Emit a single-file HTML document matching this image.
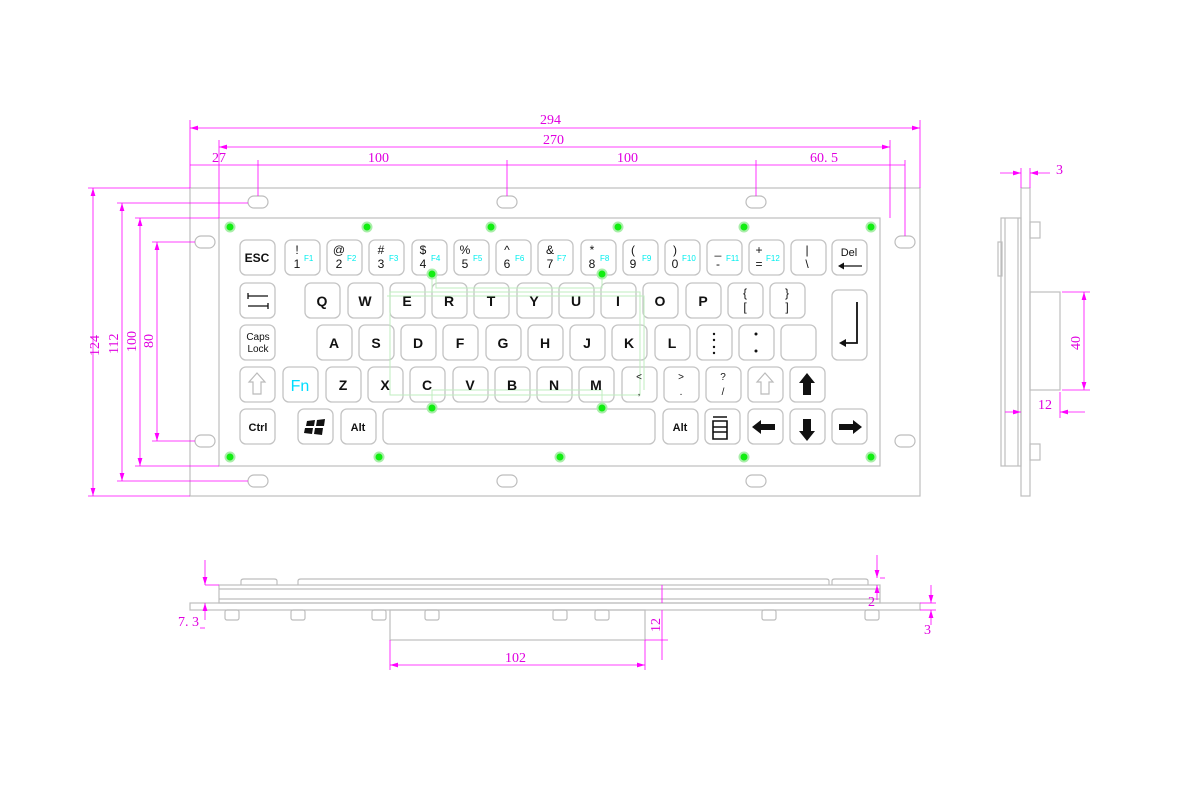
<!DOCTYPE html>
<html><head><meta charset="utf-8"><style>
html,body{margin:0;padding:0;background:#fff}
svg{display:block}
.o{fill:none;stroke:#bdbdbd;stroke-width:1.2}
.k{fill:#fff;stroke:#c4c4c4;stroke-width:1.3}
.d{stroke:#f0f;stroke-width:0.8;fill:none}
.dt{fill:#e000e0;font-family:"Liberation Serif",serif;font-size:14px}
.t{font-family:"Liberation Sans",sans-serif;font-weight:bold;font-size:14px;fill:#111;text-anchor:middle}
.s{font-family:"Liberation Sans",sans-serif;font-size:12px;fill:#111;text-anchor:middle}
.f{font-family:"Liberation Sans",sans-serif;font-size:8px;fill:#0ee}
.g{fill:#1e1;stroke:#aea;stroke-width:2}
.tr{stroke:#bfeebf;stroke-width:1;fill:none}
</style></head><body>
<svg width="1200" height="800" viewBox="0 0 1200 800" xmlns="http://www.w3.org/2000/svg">
<defs>
<marker id="a" viewBox="0 0 10 6" refX="10" refY="3" markerWidth="10" markerHeight="6" orient="auto-start-reverse"><path d="M0,0L10,3L0,6z" fill="#f0f"/></marker>
</defs>
<rect class="o" x="190" y="188" width="730" height="308"/>
<rect class="o" x="219" y="218" width="661" height="248"/>
<g class="o">
<rect x="248" y="196" width="20" height="12" rx="6"/><rect x="497" y="196" width="20" height="12" rx="6"/><rect x="746" y="196" width="20" height="12" rx="6"/>
<rect x="248" y="475" width="20" height="12" rx="6"/><rect x="497" y="475" width="20" height="12" rx="6"/><rect x="746" y="475" width="20" height="12" rx="6"/>
<rect x="195" y="236" width="20" height="12" rx="6"/><rect x="195" y="435" width="20" height="12" rx="6"/>
<rect x="895" y="236" width="20" height="12" rx="6"/><rect x="895" y="435" width="20" height="12" rx="6"/>
</g>
<g class="d">
<line x1="190" y1="128" x2="920" y2="128" marker-start="url(#a)" marker-end="url(#a)"/>
<line x1="219" y1="147" x2="890" y2="147" marker-start="url(#a)" marker-end="url(#a)"/>
<line x1="190" y1="165" x2="905" y2="165"/>
<line x1="190" y1="120" x2="190" y2="188"/><line x1="920" y1="120" x2="920" y2="188"/>
<line x1="219" y1="140" x2="219" y2="218"/><line x1="890" y1="140" x2="890" y2="218"/>
<line x1="905" y1="160" x2="905" y2="236"/>
<line x1="258" y1="160" x2="258" y2="196"/><line x1="507" y1="160" x2="507" y2="196"/><line x1="756" y1="160" x2="756" y2="196"/>
<line x1="93" y1="188" x2="93" y2="496" marker-start="url(#a)" marker-end="url(#a)"/>
<line x1="122" y1="203" x2="122" y2="481" marker-start="url(#a)" marker-end="url(#a)"/>
<line x1="140" y1="218" x2="140" y2="466" marker-start="url(#a)" marker-end="url(#a)"/>
<line x1="157" y1="242" x2="157" y2="441" marker-start="url(#a)" marker-end="url(#a)"/>
<line x1="88" y1="188" x2="190" y2="188"/><line x1="88" y1="496" x2="190" y2="496"/>
<line x1="117" y1="203" x2="248" y2="203"/><line x1="117" y1="481" x2="248" y2="481"/>
<line x1="135" y1="218" x2="219" y2="218"/><line x1="135" y1="466" x2="219" y2="466"/>
<line x1="152" y1="242" x2="195" y2="242"/><line x1="152" y1="441" x2="195" y2="441"/>
</g>
<g class="dt">
<text x="540" y="124">294</text><text x="543" y="144">270</text>
<text x="212" y="162">27</text><text x="368" y="162">100</text><text x="617" y="162">100</text><text x="810" y="162">60. 5</text>
<text transform="translate(99,356) rotate(-90)">124</text>
<text transform="translate(118,354) rotate(-90)">112</text>
<text transform="translate(136,352) rotate(-90)">100</text>
<text transform="translate(153,348) rotate(-90)">80</text>
</g>
<g class="k">
<rect x="240" y="240" width="35" height="35" rx="6"/>
<rect x="285" y="240" width="35" height="35" rx="6"/><rect x="327" y="240" width="35" height="35" rx="6"/><rect x="369" y="240" width="35" height="35" rx="6"/><rect x="412" y="240" width="35" height="35" rx="6"/><rect x="454" y="240" width="35" height="35" rx="6"/><rect x="496" y="240" width="35" height="35" rx="6"/><rect x="538" y="240" width="35" height="35" rx="6"/><rect x="581" y="240" width="35" height="35" rx="6"/><rect x="623" y="240" width="35" height="35" rx="6"/><rect x="665" y="240" width="35" height="35" rx="6"/><rect x="707" y="240" width="35" height="35" rx="6"/><rect x="749" y="240" width="35" height="35" rx="6"/><rect x="791" y="240" width="35" height="35" rx="6"/><rect x="832" y="240" width="35" height="35" rx="6"/>
<rect x="240" y="283" width="35" height="35" rx="6"/>
<rect x="305" y="283" width="35" height="35" rx="6"/><rect x="348" y="283" width="35" height="35" rx="6"/><rect x="390" y="283" width="35" height="35" rx="6"/><rect x="432" y="283" width="35" height="35" rx="6"/><rect x="474" y="283" width="35" height="35" rx="6"/><rect x="517" y="283" width="35" height="35" rx="6"/><rect x="559" y="283" width="35" height="35" rx="6"/><rect x="601" y="283" width="35" height="35" rx="6"/><rect x="643" y="283" width="35" height="35" rx="6"/><rect x="686" y="283" width="35" height="35" rx="6"/><rect x="728" y="283" width="35" height="35" rx="6"/><rect x="770" y="283" width="35" height="35" rx="6"/>
<rect x="832" y="290" width="35" height="70" rx="6"/>
<rect x="240" y="325" width="35" height="35" rx="6"/>
<rect x="317" y="325" width="35" height="35" rx="6"/><rect x="359" y="325" width="35" height="35" rx="6"/><rect x="401" y="325" width="35" height="35" rx="6"/><rect x="443" y="325" width="35" height="35" rx="6"/><rect x="486" y="325" width="35" height="35" rx="6"/><rect x="528" y="325" width="35" height="35" rx="6"/><rect x="570" y="325" width="35" height="35" rx="6"/><rect x="612" y="325" width="35" height="35" rx="6"/><rect x="655" y="325" width="35" height="35" rx="6"/><rect x="697" y="325" width="35" height="35" rx="6"/><rect x="739" y="325" width="35" height="35" rx="6"/><rect x="781" y="325" width="35" height="35" rx="6"/>
<rect x="240" y="367" width="35" height="35" rx="6"/><rect x="283" y="367" width="35" height="35" rx="6"/><rect x="326" y="367" width="35" height="35" rx="6"/><rect x="368" y="367" width="35" height="35" rx="6"/><rect x="410" y="367" width="35" height="35" rx="6"/><rect x="453" y="367" width="35" height="35" rx="6"/><rect x="495" y="367" width="35" height="35" rx="6"/><rect x="537" y="367" width="35" height="35" rx="6"/><rect x="579" y="367" width="35" height="35" rx="6"/><rect x="622" y="367" width="35" height="35" rx="6"/><rect x="664" y="367" width="35" height="35" rx="6"/><rect x="706" y="367" width="35" height="35" rx="6"/><rect x="748" y="367" width="35" height="35" rx="6"/><rect x="790" y="367" width="35" height="35" rx="6"/>
<rect x="240" y="409" width="35" height="35" rx="6"/><rect x="298" y="409" width="35" height="35" rx="6"/><rect x="341" y="409" width="35" height="35" rx="6"/><rect x="383" y="409" width="272" height="35" rx="6"/><rect x="663" y="409" width="35" height="35" rx="6"/><rect x="705" y="409" width="35" height="35" rx="6"/><rect x="748" y="409" width="35" height="35" rx="6"/><rect x="790" y="409" width="35" height="35" rx="6"/><rect x="832" y="409" width="35" height="35" rx="6"/>
</g>
<g class="tr">
<path d="M432,274 V292 H640 V395 H390 V292 H432"/>
<path d="M436,274 V288 H602 V274"/>
<path d="M432,408 V390 H602 V408"/>
<path d="M387,296 H644 V390"/>
</g>
<g class="g">
<circle cx="230" cy="227" r="4.5"/><circle cx="367" cy="227" r="4.5"/><circle cx="491" cy="227" r="4.5"/><circle cx="618" cy="227" r="4.5"/><circle cx="744" cy="227" r="4.5"/><circle cx="871" cy="227" r="4.5"/>
<circle cx="230" cy="457" r="4.5"/><circle cx="379" cy="457" r="4.5"/><circle cx="560" cy="457" r="4.5"/><circle cx="744" cy="457" r="4.5"/><circle cx="871" cy="457" r="4.5"/>
<circle cx="432" cy="274" r="4.5"/><circle cx="602" cy="274" r="4.5"/><circle cx="432" cy="408" r="4.5"/><circle cx="602" cy="408" r="4.5"/>
</g>
<text class="s" x="257" y="262" style="font-weight:bold;font-size:12px">ESC</text>
<g class="s">
<text x="297" y="254">!</text><text x="297" y="268">1</text>
<text x="339" y="254">@</text><text x="339" y="268">2</text>
<text x="381" y="254">#</text><text x="381" y="268">3</text>
<text x="423" y="254">$</text><text x="423" y="268">4</text>
<text x="465" y="254">%</text><text x="465" y="268">5</text>
<text x="507" y="254">^</text><text x="507" y="268">6</text>
<text x="550" y="254">&amp;</text><text x="550" y="268">7</text>
<text x="592" y="254">*</text><text x="592" y="268">8</text>
<text x="633" y="254">(</text><text x="633" y="268">9</text>
<text x="675" y="254">)</text><text x="675" y="268">0</text>
<text x="718" y="254">_</text><text x="718" y="268">-</text>
<text x="759" y="254">+</text><text x="759" y="268">=</text>
<text x="807" y="254">|</text><text x="807" y="268">\</text>
<text x="849" y="256" style="font-size:11px">Del</text>
</g>
<g class="f"><text x="304" y="261">F1</text><text x="347" y="261">F2</text><text x="389" y="261">F3</text><text x="431" y="261">F4</text><text x="473" y="261">F5</text><text x="515" y="261">F6</text><text x="557" y="261">F7</text><text x="600" y="261">F8</text><text x="642" y="261">F9</text><text x="682" y="261">F10</text><text x="726" y="261">F11</text><text x="766" y="261">F12</text></g>
<path d="M842,266 H862" stroke="#111" stroke-width="1.3"/><path d="M838,266 l6,-3.5 v7z" fill="#111"/>
<g class="t">
<text x="322" y="306">Q</text><text x="365" y="306">W</text><text x="407" y="306">E</text><text x="449" y="306">R</text><text x="491" y="306">T</text><text x="534" y="306">Y</text><text x="576" y="306">U</text><text x="618" y="306">I</text><text x="660" y="306">O</text><text x="703" y="306">P</text>
</g>
<g class="s"><text x="745" y="297">{</text><text x="745" y="311">[</text><text x="787" y="297">}</text><text x="787" y="311">]</text></g>
<path d="M248,296 H268 M248,306 H268 M248,293 v6 M268,303 v6" stroke="#111" stroke-width="1.3" fill="none"/>
<path d="M857,302 V343 H845" stroke="#111" stroke-width="1.8" fill="none"/><path d="M839,343 l7,-4 v8z" fill="#111"/>
<g class="s" style="font-size:10px"><text x="258" y="340">Caps</text><text x="258" y="352">Lock</text></g>
<g class="t">
<text x="334" y="348">A</text><text x="376" y="348">S</text><text x="418" y="348">D</text><text x="460" y="348">F</text><text x="503" y="348">G</text><text x="545" y="348">H</text><text x="587" y="348">J</text><text x="629" y="348">K</text><text x="672" y="348">L</text>
</g>
<g fill="#111"><circle cx="714" cy="334" r="1.2"/><circle cx="714" cy="340" r="1.2"/><circle cx="714" cy="347" r="1.2"/><circle cx="714" cy="353" r="1.2"/><circle cx="756" cy="334" r="1.5"/><circle cx="756" cy="351" r="1.5"/></g>
<path d="M257,373 l-8,9 h4 v12 h8 v-12 h4z" fill="#fff" stroke="#bbb" stroke-width="1.2"/>
<text x="300" y="391" style="font-family:'Liberation Sans',sans-serif;font-size:16px;fill:#0df;text-anchor:middle">Fn</text>
<g class="t">
<text x="343" y="390">Z</text><text x="385" y="390">X</text><text x="427" y="390">C</text><text x="470" y="390">V</text><text x="512" y="390">B</text><text x="554" y="390">N</text><text x="596" y="390">M</text>
</g>
<g class="s" style="font-size:10px"><text x="639" y="380">&lt;</text><text x="639" y="395">,</text><text x="681" y="380">&gt;</text><text x="681" y="395">.</text><text x="723" y="380">?</text><text x="723" y="395">/</text></g>
<path d="M765,373 l-8,9 h4 v12 h8 v-12 h4z" fill="#fff" stroke="#bbb" stroke-width="1.2"/>
<path d="M807,373 l-8,10 h4 v12 h8 v-12 h4z" fill="#111"/>
<text class="s" x="258" y="431" style="font-weight:bold;font-size:11px">Ctrl</text>
<path d="M307,421 l8,-1 l-1,6 h-8z M317,420 l8,-1 l-1,7 h-8z M305,428 h8 l-1,6 l-8,-1z M315,428 h8 l-1,7 l-8,-1z" fill="#111"/>
<text class="s" x="358" y="431" style="font-weight:bold;font-size:11px">Alt</text>
<text class="s" x="680" y="431" style="font-weight:bold;font-size:11px">Alt</text>
<path d="M713,417 h14 M713,421 h14 v18 h-14z M713,427 h14 M713,432 h14" stroke="#111" stroke-width="1.6" fill="none"/>
<path d="M752,427 l9,-7 v4 h14 v6 h-14 v4z" fill="#111"/>
<path d="M807,441 l-8,-10 h4 v-12 h8 v12 h4z" fill="#111"/>
<path d="M862,427 l-9,-7 v4 h-14 v6 h14 v4z" fill="#111"/>
<g class="o">
<rect x="1021" y="188" width="9" height="308"/>
<rect x="1001" y="218" width="20" height="248"/>
<line x1="1005" y1="218" x2="1005" y2="466"/>
<line x1="1018" y1="218" x2="1018" y2="466"/>
<rect x="998" y="242" width="4" height="34"/>
<rect x="1030" y="292" width="30" height="98"/>
<rect x="1030" y="222" width="10" height="16"/>
<rect x="1030" y="444" width="10" height="16"/>
</g>
<g class="d">
<line x1="1000" y1="173" x2="1021" y2="173" marker-end="url(#a)"/>
<line x1="1050" y1="173" x2="1030" y2="173" marker-end="url(#a)"/>
<line x1="1021" y1="168" x2="1021" y2="188"/><line x1="1030" y1="168" x2="1030" y2="188"/>
<line x1="1084" y1="292" x2="1084" y2="390" marker-start="url(#a)" marker-end="url(#a)"/>
<line x1="1062" y1="292" x2="1090" y2="292"/><line x1="1062" y1="390" x2="1090" y2="390"/>
<line x1="1005" y1="412" x2="1021" y2="412" marker-end="url(#a)"/>
<line x1="1085" y1="412" x2="1060" y2="412" marker-end="url(#a)"/>
<line x1="1060" y1="392" x2="1060" y2="418"/>
</g>
<g class="dt"><text x="1056" y="174">3</text><text transform="translate(1080,350) rotate(-90)">40</text><text x="1038" y="409">12</text></g>
<g class="o">
<rect x="190" y="603" width="730" height="7"/>
<rect x="219" y="585" width="661" height="18"/>
<line x1="219" y1="589" x2="880" y2="589"/>
<line x1="219" y1="599" x2="880" y2="599"/>
<path d="M241,585 v-4 q0,-2 3,-2 h30 q3,0 3,2 v4"/>
<path d="M298,585 v-4 q0,-2 3,-2 h525 q3,0 3,2 v4"/>
<path d="M832,585 v-4 q0,-2 3,-2 h30 q3,0 3,2 v4"/>
<rect x="390" y="610" width="255" height="30"/>
<rect x="225" y="610" width="14" height="10" rx="2"/><rect x="291" y="610" width="14" height="10" rx="2"/><rect x="372" y="610" width="14" height="10" rx="2"/><rect x="425" y="610" width="14" height="10" rx="2"/><rect x="553" y="610" width="14" height="10" rx="2"/><rect x="595" y="610" width="14" height="10" rx="2"/><rect x="762" y="610" width="14" height="10" rx="2"/><rect x="865" y="610" width="14" height="10" rx="2"/>
</g>
<g class="d">
<line x1="205" y1="560" x2="205" y2="585" marker-end="url(#a)"/>
<line x1="205" y1="620" x2="205" y2="603" marker-end="url(#a)"/>
<line x1="205" y1="585" x2="219" y2="585"/><line x1="200" y1="628" x2="205" y2="628"/>
<line x1="390" y1="665" x2="645" y2="665" marker-start="url(#a)" marker-end="url(#a)"/>
<line x1="390" y1="640" x2="390" y2="670"/><line x1="645" y1="640" x2="645" y2="670"/>
<line x1="662" y1="585" x2="662" y2="603" />
<line x1="662" y1="610" x2="662" y2="660"/>
<line x1="645" y1="640" x2="668" y2="640"/>
<line x1="877" y1="555" x2="877" y2="578" marker-end="url(#a)"/>
<line x1="877" y1="600" x2="877" y2="585" marker-end="url(#a)"/>
<line x1="880" y1="578" x2="885" y2="578"/>
<line x1="931" y1="585" x2="931" y2="603" marker-end="url(#a)"/>
<line x1="931" y1="625" x2="931" y2="610" marker-end="url(#a)"/>
<line x1="920" y1="603" x2="936" y2="603"/><line x1="920" y1="610" x2="936" y2="610"/>
</g>
<g class="dt"><text x="178" y="626">7. 3</text><text x="505" y="662">102</text><text transform="translate(660,632) rotate(-90)">12</text><text x="868" y="606">2</text><text x="924" y="634">3</text></g>
</svg>
</body></html>
